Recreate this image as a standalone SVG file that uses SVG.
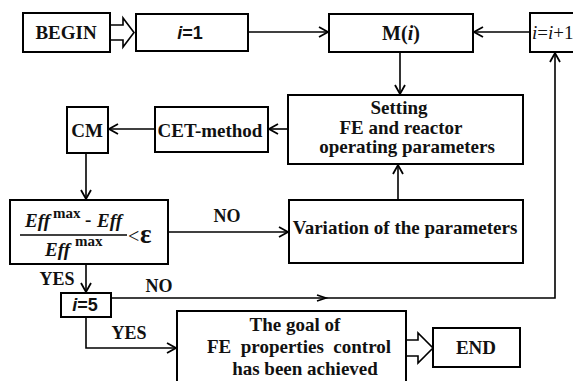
<svg xmlns="http://www.w3.org/2000/svg" width="573" height="381" viewBox="0 0 573 381">
<style>
.box{fill:#fff;stroke:#000;stroke-width:2}
.ln{fill:none;stroke:#000;stroke-width:1.6}
.t{font-family:"Liberation Serif","Times New Roman",serif;font-weight:bold;font-size:19px;fill:#111;text-anchor:middle}
.lb{font-size:18px}
.s{font-family:"Liberation Sans",Arial,sans-serif;font-weight:bold;font-size:18px;fill:#111;text-anchor:middle}
.i{font-style:italic}
.st{text-anchor:start}
.sup{font-size:15px}
.hol{fill:#fff;stroke:#000;stroke-width:1.6;stroke-linejoin:miter}
</style>
<defs>
<marker id="ah" markerUnits="userSpaceOnUse" markerWidth="12" markerHeight="12" refX="9" refY="5" orient="auto" overflow="visible">
<path d="M0,0 L9,5 L0,10" fill="none" stroke="#000" stroke-width="1.8"/>
</marker>
</defs>
<rect width="573" height="381" fill="#fff"/>
<g id="connectors">
<path class="ln" d="M248,32 H328" marker-end="url(#ah)"/>
<path class="ln" d="M530,32 H474" marker-end="url(#ah)"/>
<path class="ln" d="M400,52 V94" marker-end="url(#ah)"/>
<path class="ln" d="M288,129 H269" marker-end="url(#ah)"/>
<path class="ln" d="M155,129 H109" marker-end="url(#ah)"/>
<path class="ln" d="M86,153 V199" marker-end="url(#ah)"/>
<path class="ln" d="M168,232 H288" marker-end="url(#ah)"/>
<path class="ln" d="M398,200 V165" marker-end="url(#ah)"/>
<path class="ln" d="M86,264 V292" marker-end="url(#ah)"/>
<path class="ln" d="M111,298 H555 V53" marker-end="url(#ah)"/>
<path d="M317,295 L326,298 L317,301" fill="none" stroke="#000" stroke-width="1.6"/>
<path class="ln" d="M86,317 V348 H176" marker-end="url(#ah)"/>
<path class="hol" d="M110,25 H123 V18 L134,32.5 L123,47 V40 H110 Z"/>
<path class="hol" d="M406,340 H418 V333 L433,348 L418,363 V356 H406 Z"/>
<text class="t lb" x="227" y="222">NO</text>
<text class="t lb" x="57" y="285">YES</text>
<text class="t lb" x="159" y="292">NO</text>
<text class="t lb" x="129" y="339">YES</text>
</g>
<g id="begin"><rect class="box" x="23" y="13" width="87" height="39"/><text class="t" x="66" y="39">BEGIN</text></g>
<g id="i1"><rect class="box" x="136" y="14" width="112" height="37"/><text class="s" x="190" y="39"><tspan class="i">i</tspan>=1</text></g>
<g id="mi"><rect class="box" x="329" y="14" width="144" height="38"/><text class="t" x="401" y="40" style="font-size:20px">M(<tspan class="i">i</tspan>)</text></g>
<g id="inc"><rect class="box" x="530" y="13" width="50" height="39"/><text class="t st" x="532" y="39" style="font-weight:normal"><tspan class="i">i</tspan>=<tspan class="i">i</tspan>+1</text></g>
<g id="setting"><rect class="box" x="288" y="95" width="235" height="69"/>
<text class="t" x="399" y="114">Setting</text>
<text class="t" x="401" y="134">FE and reactor</text>
<text class="t" x="407" y="153">operating parameters</text></g>
<g id="cet"><rect class="box" x="155" y="107" width="113" height="45"/><text class="t" x="210" y="137">CET-method</text></g>
<g id="cm"><rect class="box" x="67" y="107" width="41" height="46"/><text class="t" x="87" y="137">CM</text></g>
<g id="cond"><rect class="box" x="10" y="200" width="158" height="64"/>
<text class="t i st" x="25" y="227">Eff</text>
<text class="t st sup" x="53" y="218">max</text>
<text class="t st" x="85" y="226">-</text>
<text class="t i st" x="97" y="227">Eff</text>
<line x1="20" y1="235" x2="127" y2="235" stroke="#000" stroke-width="1.6"/>
<text class="t i st" x="45" y="256">Eff</text>
<text class="t st sup" x="75" y="246">max</text>
<text class="t st" x="128" y="243" style="font-weight:normal;font-size:20px">&lt;</text>
<text class="t st" x="140" y="243" style="font-size:27px">ε</text></g>
<g id="variation"><rect class="box" x="289" y="200" width="234" height="63"/><text class="t" x="405" y="234">Variation of the parameters</text></g>
<g id="i5"><rect class="box" x="61" y="293" width="50" height="24"/><text class="s" x="85" y="311"><tspan class="i">i</tspan>=5</text></g>
<g id="goal"><rect class="box" x="177" y="311" width="229" height="75"/>
<text class="t" x="295" y="331">The goal of</text>
<text class="t" x="299" y="353" xml:space="preserve">FE  properties  control</text>
<text class="t" x="305" y="375">has been achieved</text></g>
<g id="end"><rect class="box" x="433" y="328" width="87" height="39"/><text class="t" x="476" y="354">END</text></g>
</svg>
